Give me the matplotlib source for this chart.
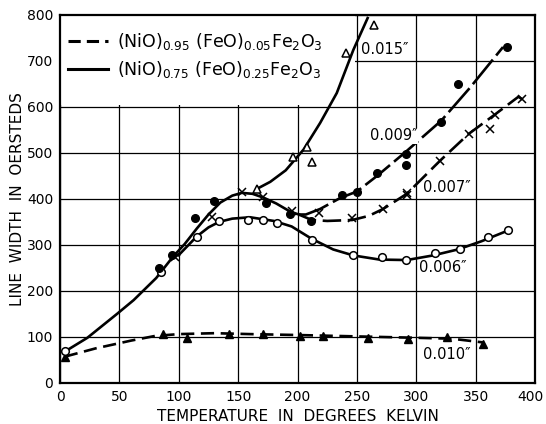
import matplotlib
matplotlib.use("Agg")
import matplotlib.pyplot as plt
from matplotlib.patches import Rectangle
from matplotlib.transforms import ScaledTranslation

# (NiO)0.95 (FeO)0.05 Fe2O3, 0.010" sample - points and drawn curve
t_010 = [4, 87, 107, 142, 171, 202, 221, 259, 293, 326, 356]
w_010 = [57, 106, 98, 106, 106, 102, 102, 98, 96, 100, 85]
c010_t = [4, 30, 60, 80, 100, 130, 160, 200, 250, 300, 330, 356]
c010_w = [57, 75, 92, 102, 106, 108, 106, 104, 101, 98, 96, 88]

# (NiO)0.75 (FeO)0.25 Fe2O3 samples
t_006 = [4, 85, 115, 134, 158, 171, 183, 212, 247, 271, 291, 316, 337, 360, 377]
w_006 = [70, 240, 317, 352, 354, 353, 347, 311, 278, 274, 267, 282, 291, 316, 332]
t_009 = [83, 94, 114, 130, 173, 194, 211, 237, 250, 267, 291, 291, 321, 335, 376]
w_009 = [250, 278, 359, 396, 391, 366, 352, 409, 415, 457, 498, 474, 567, 650, 730]
t_007 = [97, 128, 153, 171, 195, 218, 246, 272, 292, 292, 320, 344, 362, 366, 389]
w_007 = [274, 361, 415, 405, 374, 369, 359, 378, 413, 409, 483, 541, 552, 583, 617]
t_015 = [166, 196, 208, 212, 241, 264]
w_015 = [422, 491, 513, 480, 717, 778]

# curves
base_t = [4, 23, 48, 62, 81, 95, 100]
base_w = [68, 98, 150, 180, 228, 274, 278]
c006_t = [100, 115, 125, 134, 145, 160, 180, 195, 212, 230, 247, 269, 292, 314, 335, 355, 378]
c006_w = [278, 318, 338, 350, 357, 360, 352, 340, 313, 290, 277, 268, 267, 277, 290, 308, 332]
up_t = [95, 105, 115, 125, 135, 145, 153, 162, 171, 182, 194, 201]
up_w = [274, 302, 335, 366, 392, 407, 413, 411, 403, 390, 372, 366]
c009_t = [201, 207, 219, 236, 250, 267, 291, 321, 345, 373]
c009_w = [366, 366, 378, 402, 416, 450, 502, 570, 641, 730]
c007_t = [201, 212, 225, 246, 260, 272, 292, 320, 344, 366, 386, 390]
c007_w = [366, 354, 352, 354, 363, 378, 411, 483, 541, 583, 622, 615]
c015_t = [166, 177, 190, 205, 219, 233, 247, 259]
c015_w = [422, 437, 462, 507, 565, 630, 724, 793]

labels = ['0.015\u2033', '0.009\u2033', '0.007\u2033', '0.006\u2033', '0.010\u2033']
label_t = [253, 261, 306, 302, 306]
label_w = [724, 537, 424, 250, 61]

fig = plt.figure(figsize=(5.46, 4.24), dpi=100)
ax = fig.add_axes([0.110, 0.097, 0.870, 0.868])

ax.set_xlim(0, 400)
ax.set_ylim(0, 800)
ax.set_xticks(range(0, 401, 50))
ax.set_yticks(range(0, 801, 100))
ax.tick_params(length=0, labelsize=10, pad=5)
ax.grid(True, color='black', lw=0.9, zorder=0)
ax.set_axisbelow(True)
for s in ax.spines.values():
    s.set_linewidth(1.6)

# last x label sits a little left so it stays inside the figure
last = ax.get_xticklabels()[-1]
last.set_transform(last.get_transform() + ScaledTranslation(-3 / 72, 0, fig.dpi_scale_trans))

# blank area behind the legend
ax.add_patch(Rectangle((0, 604), 248, 196, facecolor='white', edgecolor='none', zorder=1))

lw = 1.9
ax.plot(c010_t, c010_w, color='black', lw=lw, ls=(0, (5, 2.5)), zorder=3)
ax.plot(base_t, base_w, color='black', lw=lw, zorder=3)
ax.plot(c006_t, c006_w, color='black', lw=lw, zorder=3)
ax.plot(up_t, up_w, color='black', lw=lw, zorder=3)
ax.plot(c009_t, c009_w, color='black', lw=lw, ls=(0, (12, 2)), zorder=3)
ax.plot(c007_t, c007_w, color='black', lw=lw, ls=(0, (7, 2.5)), zorder=3)
ax.plot(c015_t, c015_w, color='black', lw=lw, zorder=3)

ax.plot(t_010, w_010, ls='none', marker='^', ms=6, color='black', zorder=4)
ax.plot(t_006, w_006, ls='none', marker='o', ms=5.5, mfc='white', mec='black', mew=1.1, zorder=4)
ax.plot(t_009, w_009, ls='none', marker='o', ms=5.5, color='black', zorder=4)
ax.plot(t_007, w_007, ls='none', marker='x', ms=6, mec='black', mew=1.1, zorder=4)
ax.plot(t_015, w_015, ls='none', marker='^', ms=6, mfc='white', mec='black', mew=1.1, zorder=4)

for lab, x, y in zip(labels, label_t, label_w):
    ax.text(x, y, lab, fontsize=10.5, va='center', ha='left', zorder=5,
            bbox=dict(facecolor='white', edgecolor='none', pad=0.5))

h1, = ax.plot([], [], color='black', lw=2.2, ls=(0, (4, 2)))
h2, = ax.plot([], [], color='black', lw=2.2)
ax.legend([h1, h2],
          [r'(NiO)$_{0.95}$ (FeO)$_{0.05}$Fe$_2$O$_3$',
           r'(NiO)$_{0.75}$ (FeO)$_{0.25}$Fe$_2$O$_3$'],
          loc='upper left', bbox_to_anchor=(0.002, 0.974), borderaxespad=0,
          frameon=False, fontsize=12.5, handlelength=2.3, handletextpad=0.5,
          labelspacing=0.4)

ax.set_xlabel('TEMPERATURE  IN  DEGREES  KELVIN', fontsize=11, labelpad=4)
ax.set_ylabel('LINE  WIDTH  IN  OERSTEDS', fontsize=11, labelpad=1)

fig.savefig('out.png', dpi=100)
